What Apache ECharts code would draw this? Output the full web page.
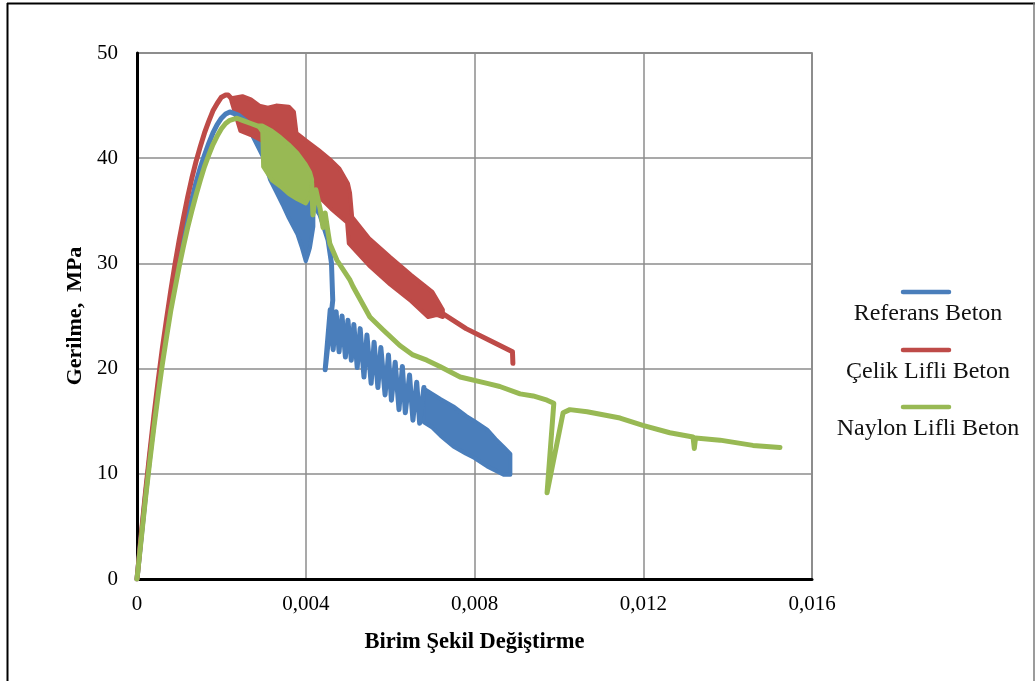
<!DOCTYPE html>
<html>
<head>
<meta charset="utf-8">
<script src="https://cdn.jsdelivr.net/npm/echarts@6/dist/echarts.min.js"></script>
<style>
  html, body { margin: 0; padding: 0; background: #fff; }
  #chart { width: 1035px; height: 681px; }
</style>
</head>
<body>
<div id="chart"></div>
<script>
// Stress–strain curves of three concrete mixes (strain, stress in MPa)
const seriesNames = ['Referans Beton', 'Çelik Lifli Beton', 'Naylon Lifli Beton'];
const seriesColors = ['#4A7EBB', '#BE4B48', '#98B954'];

const xTickLabels = ['0', '0,004', '0,008', '0,012', '0,016'];
const yTickLabels = ['0', '10', '20', '30', '40', '50'];

// Referans Beton
const referansRise = [[0,0],[0.0001,4.0],[0.0002,7.9],[0.0003,11.5],[0.0004,14.9],[0.0005,18.1],[0.0006,21.0],
  [0.0007,23.7],[0.0008,26.2],[0.0009,28.5],[0.001,30.6],[0.0011,32.6],[0.0012,34.4],[0.0013,36.1],[0.0014,37.7],
  [0.0015,39.1],[0.0016,40.3],[0.0017,41.4],[0.0018,42.4],[0.0019,43.2],[0.002,43.8],[0.0021,44.2],[0.0022,44.4],
  [0.0024,44.1],[0.0026,43.5]];
const referansBandUpper = [[0.0026,43.6],[0.0029,42.9],[0.00315,42.2],[0.0034,41.2],[0.0036,40.2],[0.0038,39.0],
  [0.004,37.8],[0.0041,36.8],[0.00418,35.8]];
const referansBandLower = [[0.0026,43.4],[0.00275,42.0],[0.0030,40.0],[0.00315,38.0],[0.0033,36.8],[0.00345,35.6],
  [0.0036,34.3],[0.0038,32.8],[0.0039,31.6],[0.0040,30.2],[0.00405,30.8],[0.0041,31.5],[0.00418,33.5]];
const referansTail = [[0.00416,35.8],[0.0042,35.5],[0.00434,34.6],[0.00453,32.2],[0.00461,30.0],[0.00464,26.5],
  [0.00446,19.9],[0.00458,25.6],[0.00465,21.8],[0.00472,25.4],[0.00479,21.6],[0.00486,25.0],[0.00494,21.1],
  [0.00500,24.6],[0.00508,20.8],[0.00514,24.2],[0.00522,20.1],[0.00529,23.8],[0.00538,19.2],[0.00545,23.2],
  [0.00555,18.6],[0.00562,22.5],[0.00571,18.2],[0.00578,22.0],[0.00588,17.5],[0.00596,21.3],[0.00603,17.0],
  [0.00612,20.6],[0.00621,16.1],[0.00629,20.2],[0.00636,15.8],[0.00646,19.4],[0.00654,15.1],[0.00663,18.7],
  [0.00670,14.8],[0.00680,18.2]];
const referansTailUpper = [[0.0068,18.1],[0.0070,17.6],[0.0072,17.1],[0.0075,16.4],[0.0078,15.5],[0.0080,15.0],
  [0.0083,14.2],[0.0085,13.3],[0.0087,12.5],[0.00885,11.9]];
const referansTailLower = [[0.0068,14.9],[0.0070,14.4],[0.0072,13.6],[0.0075,12.6],[0.0078,11.9],[0.0080,11.5],
  [0.0083,10.7],[0.0085,10.3],[0.0087,9.9],[0.00885,9.9]];

// Çelik Lifli Beton
const celikRise = [[0,0],[0.0001,4.2],[0.0002,8.2],[0.0003,11.9],[0.0004,15.5],[0.0005,18.8],[0.0006,21.9],
  [0.0007,24.7],[0.0008,27.4],[0.0009,29.9],[0.001,32.2],[0.0011,34.3],[0.0012,36.3],[0.0013,38.1],[0.0014,39.7],
  [0.0015,41.1],[0.0016,42.4],[0.0017,43.5],[0.0018,44.5],[0.0019,45.2],[0.002,45.8],[0.0021,46.0],[0.00216,46.0],
  [0.00221,45.8],[0.00226,45.5]];
const celikBandUpper = [[0.00224,45.7],[0.0025,45.9],[0.0027,45.6],[0.0029,45.0],[0.0031,44.8],[0.0033,45.0],
  [0.0036,44.9],[0.00372,44.4],[0.00378,42.4],[0.0040,41.7],[0.0043,40.8],[0.0046,39.8],[0.0048,39.0],
  [0.0050,37.6],[0.00505,36.7],[0.0051,34.4],[0.0055,32.4],[0.0060,30.6],[0.0065,28.9],[0.0070,27.3],[0.00725,25.6]];
const celikBandLower = [[0.00224,45.4],[0.00245,42.6],[0.0027,42.2],[0.0030,41.6],[0.0033,40.8],[0.0036,39.8],
  [0.0039,38.6],[0.0042,37.0],[0.0043,36.4],[0.0046,35.2],[0.0048,34.5],[0.00498,33.9],[0.00502,31.9],
  [0.0055,29.8],[0.0060,28.0],[0.0065,26.4],[0.0069,24.9],[0.0071,25.1],[0.00725,24.9]];
const celikTail = [[0.00722,25.3],[0.0078,23.8],[0.0084,22.6],[0.0089,21.6],[0.00891,20.5]];

// Naylon Lifli Beton
const naylonRise = [[0,0],[0.0001,3.8],[0.0002,7.6],[0.0003,11.1],[0.0004,14.4],[0.0005,17.5],[0.0006,20.4],
  [0.0007,23.0],[0.0008,25.5],[0.0009,27.6],[0.001,29.7],[0.0011,31.6],[0.0012,33.4],[0.0013,35.0],[0.0014,36.5],
  [0.0015,37.9],[0.0016,39.2],[0.0017,40.3],[0.0018,41.3],[0.0019,42.1],[0.002,42.8],[0.0021,43.3],[0.0022,43.6],
  [0.00237,43.8],[0.0025,43.6],[0.0027,43.3],[0.0029,43.0]];
const naylonBandUpper = [[0.0029,43.1],[0.00297,43.1],[0.0032,42.6],[0.0034,42.0],[0.0036,41.3],[0.0038,40.5],
  [0.0040,39.4],[0.0041,38.7],[0.00415,38.0]];
const naylonBandLower = [[0.0029,42.9],[0.00297,42.5],[0.00299,39.2],[0.0032,37.9],[0.0034,37.3],[0.0036,36.6],
  [0.0038,36.1],[0.0040,35.7],[0.0041,36.4],[0.00415,37.4]];
const naylonTail = [[0.00414,37.6],[0.00417,34.6],[0.00424,37.0],[0.00434,35.2],[0.00441,33.4],[0.00446,34.8],
  [0.00453,32.9],[0.00457,31.9],[0.00474,30.3],[0.00505,28.4],[0.00512,27.8],[0.00552,24.9],[0.00583,23.7],
  [0.00623,22.2],[0.00654,21.3],[0.00687,20.8],[0.00718,20.2],[0.00766,19.2],[0.0083,18.6],[0.0086,18.3],
  [0.00908,17.6],[0.00939,17.4],[0.00972,17.0],[0.00988,16.7],[0.00972,8.2],[0.0101,15.8],[0.01026,16.1],
  [0.01067,15.9],[0.01145,15.3],[0.01199,14.6],[0.01263,13.9],[0.01318,13.5],[0.01321,12.4],[0.01324,13.4],
  [0.01382,13.2],[0.0146,12.7],[0.01524,12.5]];

const SERIF = "'Liberation Serif', 'Times New Roman', serif";
const CURVE_WIDTH = 5;

function lineSeries(name, data, color) {
  return {
    type: 'line', name: name, data: data, showSymbol: false, symbol: 'none', silent: true,
    lineStyle: { color: color, width: CURVE_WIDTH, join: 'round', cap: 'round' }
  };
}

// Dense oscillation regions drawn as a filled envelope between the upper and lower traces
function bandSeries(name, upper, lower, color) {
  return {
    type: 'custom', name: name, coordinateSystem: 'cartesian2d', silent: true,
    data: [upper[0]],
    renderItem: function (params, api) {
      const pts = upper.concat(lower.slice().reverse()).map(function (p) { return api.coord(p); });
      return {
        type: 'polygon',
        shape: { points: pts },
        style: { fill: color, stroke: color, lineWidth: CURVE_WIDTH - 1, lineJoin: 'round' }
      };
    }
  };
}

const chart = echarts.init(document.getElementById('chart'), null, { renderer: 'canvas' });

const legendGraphics = [];
const legendY = [292, 350, 407];
seriesNames.forEach(function (n, i) {
  legendGraphics.push({
    type: 'line', shape: { x1: 903, y1: legendY[i], x2: 949, y2: legendY[i] },
    style: { stroke: seriesColors[i], lineWidth: 4.5, lineCap: 'round' }, silent: true
  });
  legendGraphics.push({
    type: 'text', x: 928, y: legendY[i] + 22,
    style: { text: n, font: '24px ' + SERIF, fill: '#111', textAlign: 'center', textVerticalAlign: 'middle' },
    silent: true
  });
});

const frameGraphics = [
  { type: 'line', shape: { x1: 7.5, y1: 3, x2: 7.5, y2: 681 }, style: { stroke: '#000', lineWidth: 2 }, silent: true },
  { type: 'line', shape: { x1: 7, y1: 3.5, x2: 1035, y2: 3.5 }, style: { stroke: '#000', lineWidth: 2 }, silent: true },
  { type: 'line', shape: { x1: 1034, y1: 3, x2: 1034, y2: 681 }, style: { stroke: '#7a7a7a', lineWidth: 1.5 }, silent: true }
];

chart.setOption({
  animation: false,
  backgroundColor: '#fff',
  grid: { left: 137, right: 223, top: 53, bottom: 102, show: true, borderColor: '#6a6a6a', borderWidth: 1.5 },
  xAxis: {
    type: 'value', min: 0, max: 0.016, interval: 0.004,
    name: 'Birim Şekil Değiştirme', nameLocation: 'middle', nameGap: 52,
    nameTextStyle: { fontFamily: SERIF, fontSize: 22.5, fontWeight: 'bold', color: '#000' },
    axisLine: { show: true, lineStyle: { color: '#000', width: 3 } },
    axisTick: { show: false },
    axisLabel: {
      margin: 15, fontFamily: SERIF, fontSize: 21, color: '#000',
      formatter: function (v, i) { return xTickLabels[i]; }
    },
    splitLine: { show: true, lineStyle: { color: '#8c8c8c', width: 1.5 } }
  },
  yAxis: {
    type: 'value', min: 0, max: 50, interval: 10,
    name: 'Gerilme,  MPa', nameLocation: 'middle', nameGap: 47, nameRotate: 90,
    nameTextStyle: { fontFamily: SERIF, fontSize: 22, fontWeight: 'bold', color: '#000' },
    axisLine: { show: true, lineStyle: { color: '#000', width: 3 } },
    axisTick: { show: false },
    axisLabel: {
      margin: 19, fontFamily: SERIF, fontSize: 21, color: '#000',
      formatter: function (v, i) { return yTickLabels[i]; }
    },
    splitLine: { show: true, lineStyle: { color: '#8c8c8c', width: 1.5 } }
  },
  series: [
    lineSeries(seriesNames[0], referansRise, seriesColors[0]),
    bandSeries(seriesNames[0], referansBandUpper, referansBandLower, seriesColors[0]),
    lineSeries(seriesNames[0], referansTail, seriesColors[0]),
    bandSeries(seriesNames[0], referansTailUpper, referansTailLower, seriesColors[0]),
    lineSeries(seriesNames[1], celikRise, seriesColors[1]),
    bandSeries(seriesNames[1], celikBandUpper, celikBandLower, seriesColors[1]),
    lineSeries(seriesNames[1], celikTail, seriesColors[1]),
    lineSeries(seriesNames[2], naylonRise, seriesColors[2]),
    bandSeries(seriesNames[2], naylonBandUpper, naylonBandLower, seriesColors[2]),
    lineSeries(seriesNames[2], naylonTail, seriesColors[2])
  ],
  graphic: frameGraphics.concat(legendGraphics)
});
</script>
</body>
</html>
